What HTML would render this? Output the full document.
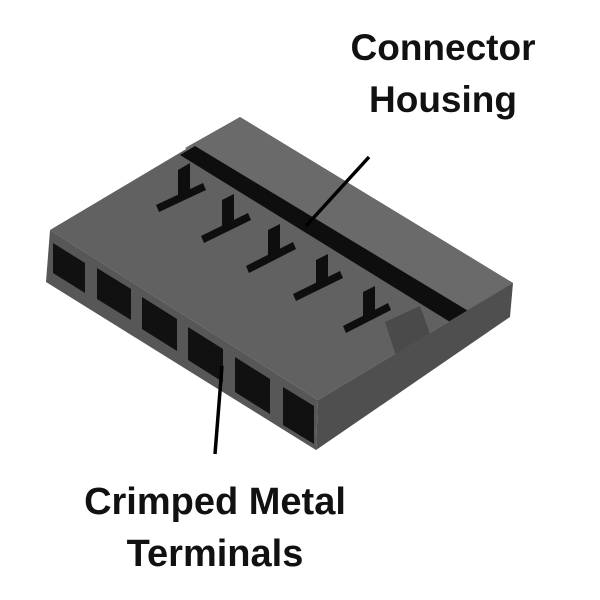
<!DOCTYPE html>
<html><head><style>
html,body{margin:0;padding:0;background:#fff;width:600px;height:600px;overflow:hidden}
svg{display:block}
text{font-family:"Liberation Sans",sans-serif;font-weight:bold;fill:#111}
</style></head><body>
<svg width="600" height="600" viewBox="0 0 600 600">
  <!-- top surface -->
  <polygon points="50,230 240,117 513,283 318,400" fill="#616161"/>
  <!-- back raised band -->
  <polygon points="185,148 240,117 513,283 462,316" fill="#6a6a6a"/>
  <!-- rear dark channel -->
  <polygon points="180,155 195,146 470,312 455,325" fill="#0e0e0e"/>
  <!-- slots (L shapes) -->
  <g fill="#0e0e0e">
    <polygon points="156,205 203,183 206,190 159,212"/>
    <polygon points="178,170 190,163 190,190 178,196"/>
    <polygon points="201,236 248,213 251,220 204,243"/>
    <polygon points="222,200 234,194 234,220 222,226"/>
    <polygon points="246,266 293,242 296,249 249,273"/>
    <polygon points="268,230 280,224 280,250 268,256"/>
    <polygon points="293,294 340,271 343,278 296,301"/>
    <polygon points="316,260 328,254 328,281 316,287"/>
    <polygon points="343,326 388,303 391,310 346,333"/>
    <polygon points="363,292 375,286 375,313 363,319"/>
  </g>
  <polygon points="385,322 420,306 436,350 398,362" fill="#4a4a4a"/>
  <!-- front face -->
  <polygon points="50,230 318,400 316,450 46,282" fill="#575757"/>
  <!-- side face -->
  <polygon points="318,400 513,283 510,317 316,450" fill="#4f4f4f"/>
  <!-- holes -->
  <g fill="#111">
    <polygon points="53,243 85,263 85,293 53,273"/>
    <polygon points="97,268 131,289 131,320 97,299"/>
    <polygon points="142,297 177,319 177,351 142,329"/>
    <polygon points="188,327 223,349 223,382 188,360"/>
    <polygon points="235,357 270,379 270,414 235,392"/>
    <polygon points="283,387 314,406 314,444 283,425"/>
  </g>
  <!-- leader lines -->
  <line x1="369" y1="157" x2="306" y2="226" stroke="#000" stroke-width="3.5"/>
  <line x1="222" y1="366" x2="215" y2="454" stroke="#000" stroke-width="3.5"/>
  <!-- labels -->
  <text x="443" y="60" font-size="37" text-anchor="middle">Connector</text>
  <text x="443" y="112" font-size="37" text-anchor="middle">Housing</text>
  <text x="215" y="514" font-size="38" text-anchor="middle">Crimped Metal</text>
  <text x="215" y="566" font-size="38" text-anchor="middle">Terminals</text>
</svg>
</body></html>
